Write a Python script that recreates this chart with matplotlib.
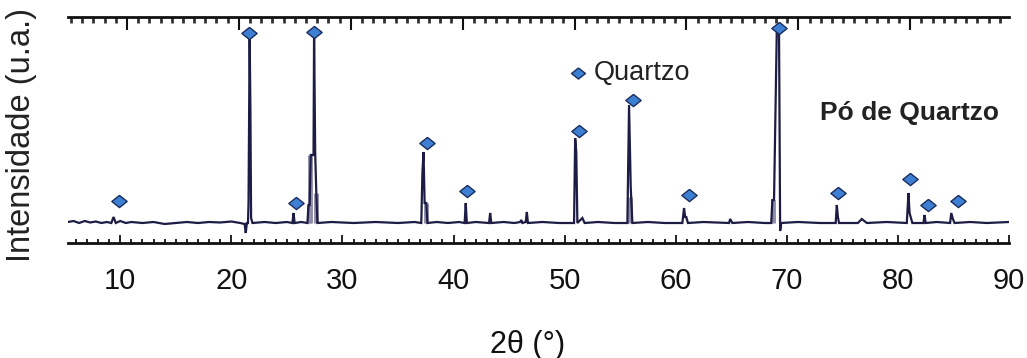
import matplotlib
matplotlib.use("Agg")
import matplotlib.pyplot as plt
from matplotlib.ticker import MultipleLocator, NullFormatter

plt.rcParams['font.family'] = ['Liberation Sans', 'DejaVu Sans']

# Diffraction trace vertices (2theta, intensity a.u.)
trace_x = [5.3, 5.8, 6.3, 6.8, 7.3, 7.8, 8.3, 8.8, 9.2, 9.4, 9.6, 10.0, 10.5, 11.0, 12.0, 13.0,
           14.0, 15.0, 16.0, 17.0, 18.0, 19.0, 20.0, 20.8, 21.2, 21.3, 21.4, 21.5, 21.55, 21.6,
           21.65, 21.72, 21.78, 21.9, 23.0, 24.0, 25.0, 25.5, 25.6, 25.7, 26.3, 26.85, 26.95,
           27.05, 27.15, 27.4, 27.45, 27.55, 27.65, 27.75, 29.0, 31.0, 33.0, 35.0, 36.5, 37.1,
           37.2, 37.3, 37.4, 37.55, 37.65, 38.5, 39.5, 40.5, 41.0, 41.1, 41.2, 42.0, 43.2,
           43.3, 43.4, 44.5, 45.5, 46.0, 46.1, 46.2, 46.5, 46.6, 46.7, 48.0, 49.5, 50.85,
           50.95, 51.05, 51.15, 51.6, 51.8, 53.0, 54.5, 55.65, 55.8, 55.95, 56.1, 57.5, 59.0,
           60.6, 60.75, 60.85, 60.95, 61.1, 62.5, 64.8, 64.9, 65.1, 66.5, 68.0, 68.6, 68.7,
           68.85, 69.1, 69.3, 69.4, 69.5, 71.0, 73.0, 74.4, 74.5, 74.6, 74.7, 76.4, 76.75,
           77.2, 79.0, 80.8, 80.95, 81.05, 81.15, 81.3, 82.3, 82.4, 82.5, 83.5, 84.7, 84.8,
           84.95, 85.1, 86.5, 88.0, 90.0]
trace_y = [1, 2, 0, 2, 0.5, 1.5, 0, 1, 0, 6, 0, 2, 0, 1, 0, 1,
           -1, 0, 1, 0, 1, 0.5, 1.5, 0, -1, -10, 0, 0, 20, 111,
           188, 111, 5, 0, 1, 0, 1, 0, 10, 0, 1, 0, 18,
           18, 68, 68, 190, 70, 30, 0, 1, 0, 1, 0, 1, 0,
           50, 71, 20, 20, 0, 1, 0, 1, 0, 20, 0, 1, 0,
           10, 0, 1, 0, 1, 3, 0, 1, 11, 0, 1, 0, 0,
           85, 71, 0, 5, 0, 1, 0, 0, 118, 36, 0, 1, 0,
           0, 15, 6, 6, 0, 1, 0, 4, 0, 1, 0, 0, 23,
           23, 193, 193, -8, 0, 1, 0, 0, 18, 6, 0, 0, 4,
           0, 1, 0, 30, 10, 6, 0, 0, 8, 0, 1, 0, 10,
           4, 0, 1, 0, 1]

# Lighter doublet components (2theta, intensity)
doublet_x = [26.95, 27.1, 27.65, 37.55, 55.85, 68.75]
doublet_h = [18, 68, 30, 20, 26, 23]

# Quartz peak markers (2theta, intensity)
quartz_x = [9.9, 21.6, 25.8, 27.45, 37.6, 41.2, 51.3, 56.2, 61.2, 69.3, 74.6, 81.1, 82.7, 85.4]
quartz_y = [22, 190, 20, 191, 80, 32, 92, 123, 28, 195, 30, 44, 18, 22]

xticks = [10, 20, 30, 40, 50, 60, 70, 80, 90]

fig = plt.figure(figsize=(10.27, 3.58), dpi=100)
ax = fig.add_axes([68 / 1027, (358 - 243) / 358, (1009 - 68) / 1027, (243 - 17) / 358])

navy = '#1c1c44'
ax.vlines(doublet_x, 0, doublet_h, colors='#8e8eaa', linewidth=3.5, zorder=2)
ax.plot(trace_x, trace_y, color=navy, linewidth=1.6, zorder=3, solid_joinstyle='miter')

diamond = [(0, 1), (1.25, 0), (0, -1), (-1.25, 0), (0, 1)]
ax.plot(quartz_x, quartz_y, linestyle='none', marker=diamond, markersize=11,
        markerfacecolor='#3d7fd2', markeredgecolor='#1b2e5e', markeredgewidth=1.0, zorder=4)

ax.set_xlim(5.3, 90)
ax.set_ylim(-20, 206)

for s in ['left', 'right', 'top']:
    ax.spines[s].set_visible(False)
ax.spines['bottom'].set_linewidth(2)
ax.spines['bottom'].set_color('#111111')
ax.set_yticks([])
ax.set_xticks(xticks)
ax.xaxis.set_minor_locator(MultipleLocator(1))
ax.tick_params(axis='x', which='major', direction='in', length=5.5, width=1.3,
               color='#111111', labelsize=21, pad=17, labelcolor='#111111')
ax.tick_params(axis='x', which='minor', direction='in', length=3, width=1.3, color='#111111')

ax2 = ax.twiny()
ax2.set_xlim(4.73, 88.82)
for s in ['left', 'right', 'bottom']:
    ax2.spines[s].set_visible(False)
ax2.spines['top'].set_linewidth(2)
ax2.spines['top'].set_color('#111111')
ax2.xaxis.set_major_locator(MultipleLocator(10))
ax2.xaxis.set_minor_locator(MultipleLocator(1))
ax2.xaxis.set_major_formatter(NullFormatter())
ax2.tick_params(axis='x', which='major', direction='in', length=9, width=1.5, color='#111111')
ax2.tick_params(axis='x', which='minor', direction='in', length=4, width=2.0, color='#333333')

fig.text(528 / 1027, 1 - 345 / 358, '2θ (°)', fontsize=22, ha='center', va='center',
         color='#111111')
fig.text(22 / 1027, 1 - 135 / 358, 'Intensidade (u.a.)', rotation=90, fontsize=23.5,
         ha='center', va='center', color='#222222')

ax.plot([51.2], [150], linestyle='none', marker=diamond, markersize=10,
        markerfacecolor='#3d7fd2', markeredgecolor='#1b2e5e', markeredgewidth=1.0, zorder=4)
ax.text(52.6, 150, 'Quartzo', fontsize=19.5, va='center', ha='left', color='#222222')
ax.text(81.0, 110, 'Pó de Quartzo', fontsize=19, fontweight='bold', va='center',
        ha='center', color='#222222')

fig.savefig('out.png', dpi=100)
